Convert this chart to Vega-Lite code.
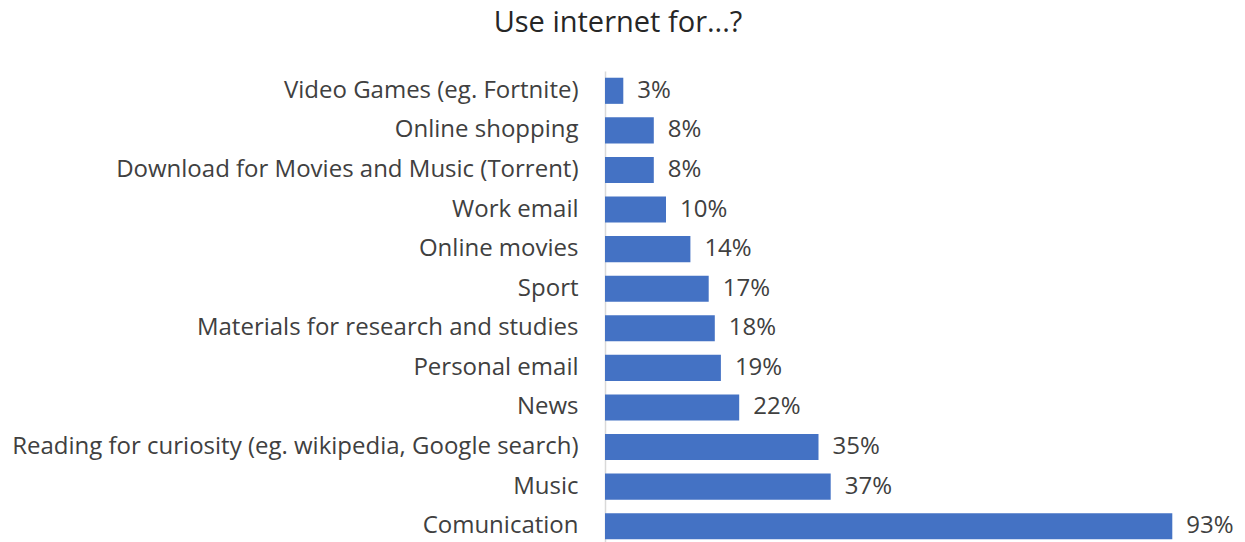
{
  "$schema": "https://vega.github.io/schema/vega-lite/v6.json",
  "autosize": "none",
  "width": 610,
  "height": 475,
  "padding": {"left": 605, "top": 71, "right": 30, "bottom": 0},
  "background": "white",
  "title": {
    "text": "Use internet for...?",
    "frame": "group",
    "anchor": "middle",
    "dx": -292,
    "offset": 33,
    "fontSize": 29,
    "fontWeight": "normal",
    "font": "Open Sans",
    "color": "#262626"
  },
  "data": {
    "values": [
      {"use": "Video Games (eg. Fortnite)", "share": 0.03},
      {"use": "Online shopping", "share": 0.08},
      {"use": "Download for Movies and Music (Torrent)", "share": 0.08},
      {"use": "Work email", "share": 0.10},
      {"use": "Online movies", "share": 0.14},
      {"use": "Sport", "share": 0.17},
      {"use": "Materials for research and studies", "share": 0.18},
      {"use": "Personal email", "share": 0.19},
      {"use": "News", "share": 0.22},
      {"use": "Reading for curiosity (eg. wikipedia, Google search)", "share": 0.35},
      {"use": "Music", "share": 0.37},
      {"use": "Comunication", "share": 0.93}
    ]
  },
  "encoding": {
    "y": {
      "field": "use",
      "type": "nominal",
      "sort": null,
      "title": null,
      "scale": {"paddingInner": 0.34, "paddingOuter": 0.17},
      "axis": {
        "ticks": false,
        "labelPadding": 27,
        "labelFont": "Open Sans",
        "labelFontSize": 24,
        "labelColor": "#404040",
        "labelLimit": 700,
        "domainColor": "#d9d9d9",
        "domainWidth": 1.5
      }
    },
    "x": {
      "field": "share",
      "type": "quantitative",
      "scale": {"domain": [0, 1]},
      "axis": null
    }
  },
  "layer": [
    {
      "mark": {"type": "bar", "color": "#4472C4"}
    },
    {
      "mark": {
        "type": "text",
        "align": "left",
        "baseline": "middle",
        "dx": 14,
        "font": "Open Sans",
        "fontSize": 24,
        "color": "#404040"
      },
      "encoding": {
        "text": {"field": "share", "type": "quantitative", "format": ".0%"}
      }
    }
  ],
  "config": {"view": {"stroke": null}}
}
